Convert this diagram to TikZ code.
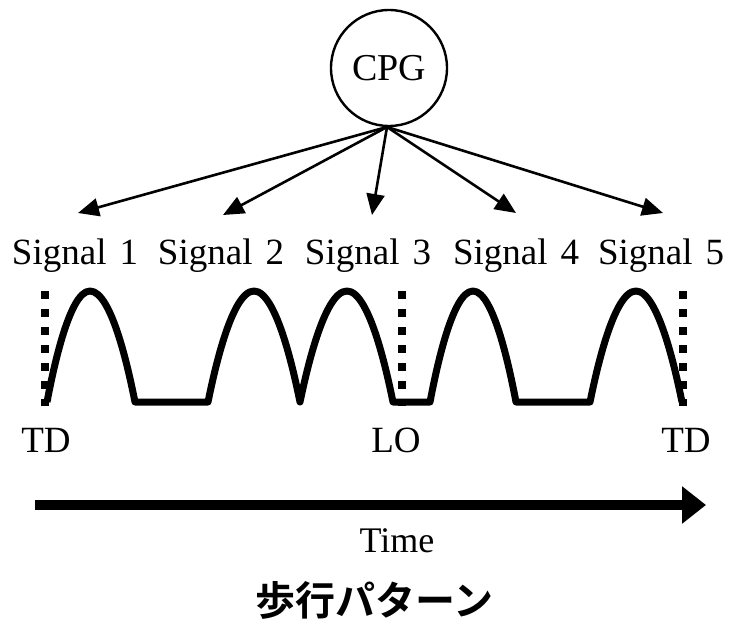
\documentclass[tikz,border=0pt]{standalone}
\usepackage{fontspec}
\setmainfont{Liberation Serif}
\newfontfamily\cjk[BoldFont={Noto Sans CJK JP Bold}]{Noto Sans CJK JP}
\usetikzlibrary{arrows.meta}
\begin{document}
\begin{tikzpicture}[x=1pt,y=-1pt,
  lbl/.style={font=\fontsize{37}{40}\selectfont, inner sep=0pt, anchor=base},
  sigarrow/.style={line width=2.6pt, -{Triangle[length=21pt,width=18pt]}},
  wave/.style={line width=7pt, line join=round},
  marker/.style={line width=8pt, dash pattern=on 8pt off 10pt},
  timearrow/.style={line width=10pt, -{Triangle[length=24pt,width=36pt]}}]
\useasboundingbox (0,0) rectangle (731,623);
% CPG
\node[draw, circle, line width=2.4pt, minimum size=116pt, inner sep=0pt,
      font=\fontsize{38}{40}\selectfont] (cpg) at (389,68) {CPG};
\coordinate (src) at (387,127);
% arrow tips
\coordinate (t1) at (78,213);
\coordinate (t2) at (223,215);
\coordinate (t3) at (372,215);
\coordinate (t4) at (516,213);
\coordinate (t5) at (663,213);
\foreach \i in {1,...,5} \draw[sigarrow] (src) -- (t\i);
% signal labels
\node[lbl] (s1) at (75,264) {Signal\hspace{0.35em}1};
\node[lbl] (s2) at (221,264) {Signal\hspace{0.35em}2};
\node[lbl] (s3) at (368,264) {Signal\hspace{0.35em}3};
\node[lbl] (s4) at (516,264) {Signal\hspace{0.35em}4};
\node[lbl] (s5) at (661,264) {Signal\hspace{0.35em}5};
% markers
\draw[marker] (45,291) -- (45,406);
\draw[marker] (402,291) -- (402,406);
\draw[marker] (683,291) -- (683,406);
% waveform
\draw[wave] (47,402) parabola bend (90,291) (135,402) -- (208,402)
  parabola bend (254,291) (300,402) parabola bend (347,291) (393,402) -- (430,402)
  parabola bend (473,291) (516,402) -- (590,402)
  parabola bend (636,291) (682,402);
% phase labels
\node[lbl] (td1) at (46,452) {TD};
\node[lbl] (lo) at (396,452) {LO};
\node[lbl] (td2) at (686,452) {TD};
% time axis
\coordinate (ta) at (35,505);
\coordinate (tb) at (706,505);
\draw[timearrow] (ta) -- (tb);
\node[lbl, font=\fontsize{36}{40}\selectfont] (time) at (397,552) {Time};
\node[font=\cjk\bfseries\fontsize{40}{42}\selectfont, inner sep=0pt] (jp) at (374,600) {歩行パターン};
\end{tikzpicture}
\end{document}
